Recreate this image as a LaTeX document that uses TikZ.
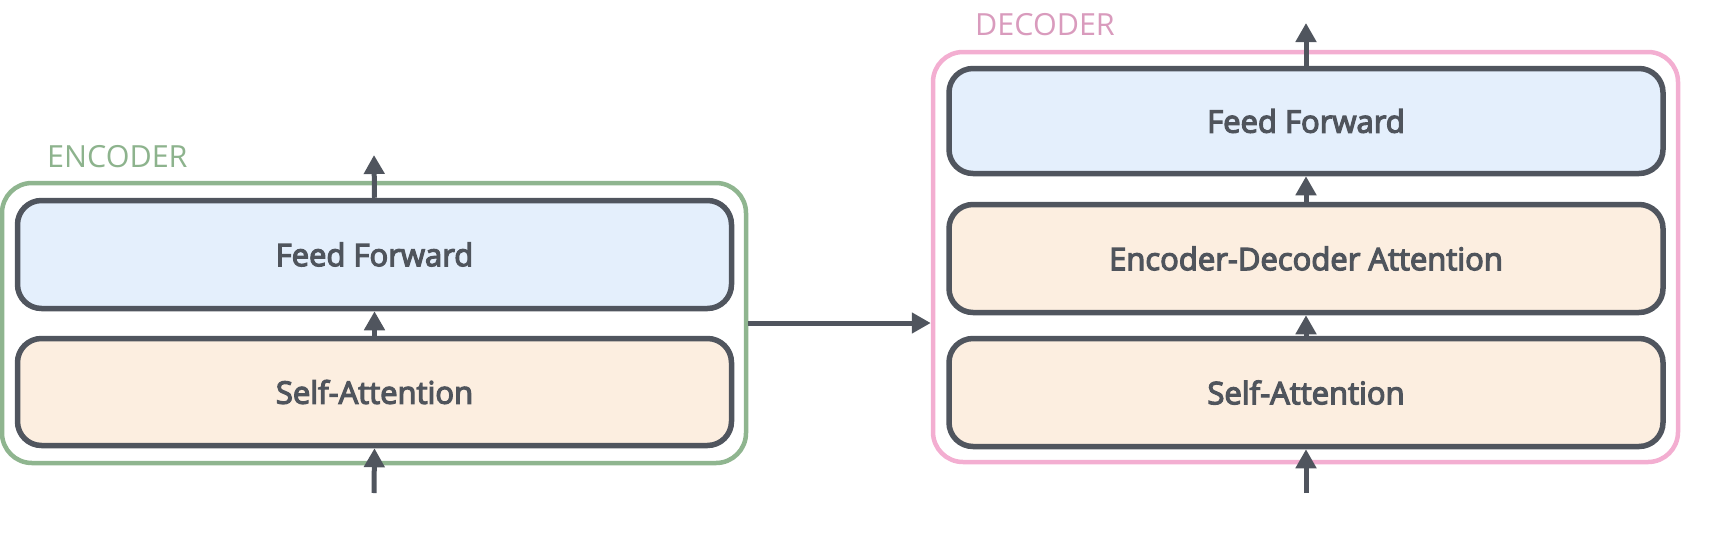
\documentclass[tikz,border=0pt]{standalone}
\usepackage{fontspec}
\setmainfont{Open Sans}
\newfontfamily\semib{Open Sans}[RawFeature={embolden=4}]
\usetikzlibrary{arrows.meta}
\definecolor{dk}{HTML}{50555E}
\definecolor{txt}{HTML}{4F545C}
\definecolor{blu}{HTML}{E4EFFC}
\definecolor{org}{HTML}{FCEEE0}
\definecolor{grn}{HTML}{8FB58F}
\definecolor{pnk}{HTML}{F3AED1}
\definecolor{grnt}{HTML}{8DB38D}
\definecolor{pnkt}{HTML}{D99BBD}
\begin{document}
\begin{tikzpicture}[x=1pt,y=-1pt,
  blk/.style={draw=dk, line width=5.5pt, rounded corners=24pt, minimum width=714pt,
    inner sep=0pt, font=\semib\fontsize{31}{33}\selectfont, text=txt},
  outerbox/.style={line width=4.5pt, rounded corners=30pt, inner sep=0pt},
  lbl/.style={anchor=west, inner sep=0pt, font=\fontsize{30.5}{32}\selectfont},
  arr/.style={draw=dk, line width=5pt, -{Triangle[width=20pt,length=19pt]}}]
\useasboundingbox (0,0) rectangle (1714,550);
% encoder
\node[outerbox, draw=grn, minimum width=744pt, minimum height=280pt] (enc) at (374,323) {};
\node[lbl, text=grnt] (enclbl) at (47,157) {ENCODER};
\node[blk, fill=blu, minimum height=108pt] (eff) at (374.5,254.5) {Feed Forward};
\node[blk, fill=org, minimum height=107pt] (esa) at (374.5,392) {Self-Attention};
% decoder
\node[outerbox, draw=pnk, minimum width=745pt, minimum height=410pt] (dec) at (1305.5,257) {};
\node[lbl, text=pnkt] (declbl) at (975,25) {DECODER};
\node[blk, fill=blu, minimum height=105pt] (dff) at (1306,121) {Feed Forward};
\node[blk, fill=org, minimum height=108pt] (deda) at (1306,258.5) {Encoder-Decoder Attention};
\node[blk, fill=org, minimum height=108pt] (dsa) at (1306,392.5) {Self-Attention};
% arrows
\coordinate (ein) at (374,493);
\coordinate (eout) at (374,155);
\coordinate (din) at (1306,493);
\coordinate (dout) at (1306,23);
\draw[arr] (ein) -- (esa.south);
\draw[arr] (esa.north) -- (eff.south);
\draw[arr] (eff.north) -- (eout);
\draw[arr] (enc.east) -- (enc.east -| dec.west);
\draw[arr] (din) -- (dsa.south);
\draw[arr] (dsa.north) -- (deda.south);
\draw[arr] (deda.north) -- (dff.south);
\draw[arr] (dff.north) -- (dout);
\end{tikzpicture}
\end{document}
